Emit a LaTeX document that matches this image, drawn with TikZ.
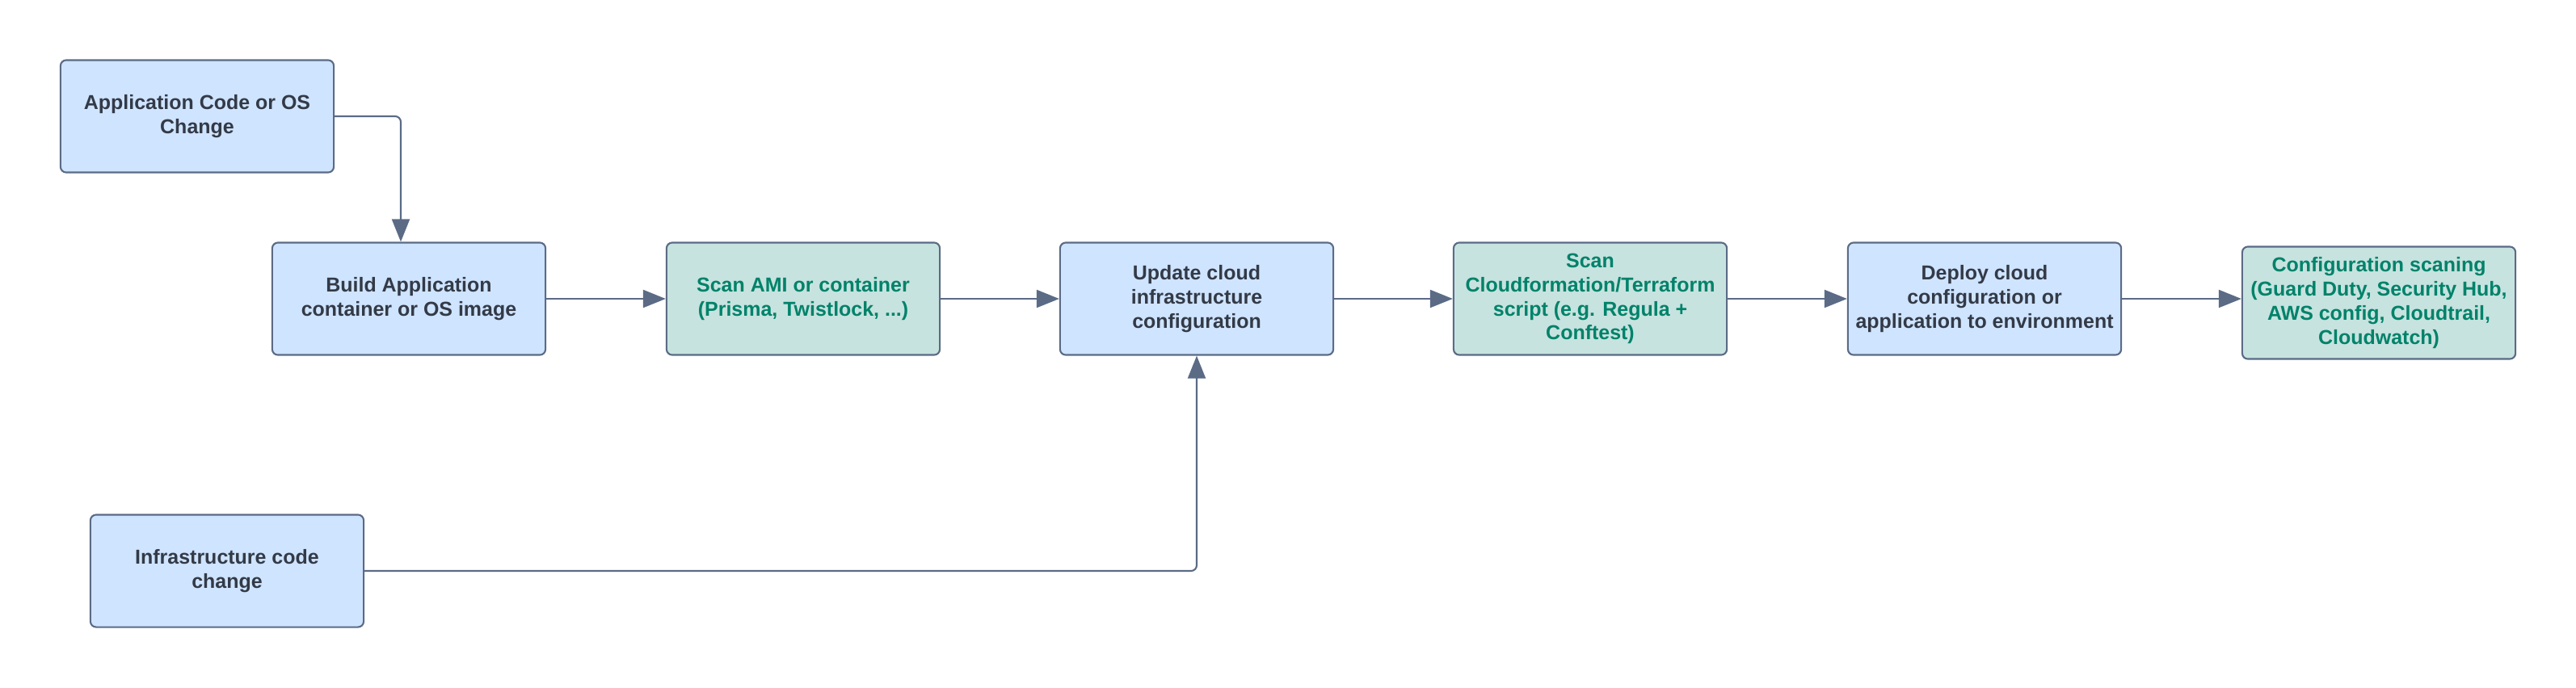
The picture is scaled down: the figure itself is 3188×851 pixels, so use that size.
\documentclass[tikz,border=0pt]{standalone}
\usepackage{fontspec}
\setmainfont{Liberation Sans}
\usepackage{tikz}
\usetikzlibrary{positioning,
  arrows.meta
}
\definecolor{stepblue}{HTML}{CFE4FF}
\definecolor{scangreen}{HTML}{C7E3DF}
\definecolor{edgegray}{HTML}{5B6B86}
\definecolor{textdark}{HTML}{333A47}
\definecolor{textgreen}{HTML}{00826A}

\begin{document}
\begin{tikzpicture}[x=0.01cm, y=-0.01cm,
  box/.style={rectangle, rounded corners=2pt, draw=edgegray, line width=0.6pt,
    minimum width=3.38cm, minimum height=1.39cm, inner sep=0cm, align=center,
    font=\fontsize{7.1}{8.5}\selectfont\bfseries},
  plain/.style={box, fill=stepblue, text=textdark},
  scan/.style={box, fill=scangreen, text=textgreen},
  flow/.style={draw=edgegray, line width=0.6pt, rounded corners=2pt,
    -{Triangle[length=0.28cm, width=0.22cm]}}]
  \useasboundingbox (0,0) rectangle (3188,851);

  \node[plain] (app)    at ( 244, 144) {Application Code or OS\\Change} ;
  \node[plain] (build)  at ( 506, 370) {Build Application\\container or OS image} ;
  \node[scan]  (ami)    at ( 994, 370) {Scan AMI or container\\(Prisma, Twistlock, ...)} ;
  \node[plain] (update) at (1481, 370) {Update cloud\\infrastructure\\configuration} ;
  \node[scan]  (cf)     at (1968, 370) {Scan\\Cloudformation/Terraform\\script (e.g. Regula +\\Conftest)} ;
  \node[plain] (deploy) at (2456, 370) {Deploy cloud\\configuration or\\application to environment} ;
  \node[scan]  (cfg)    at (2944, 375) {Configuration scaning\\(Guard Duty, Security Hub,\\AWS config, Cloudtrail,\\Cloudwatch)} ;
  \node[plain] (infra)  at ( 281, 707) {Infrastructure code\\change} ;

  \draw[flow] (app.east) -| ([xshift=-0.1cm]build.north) ;
  \draw[flow] (build) -- (ami) ;
  \draw[flow] (ami) -- (update) ;
  \draw[flow] (update) -- (cf) ;
  \draw[flow] (cf) -- (deploy) ;
  \draw[flow] (deploy.east) -- (deploy.east -| cfg.west) ;
  \draw[flow] (infra.east) -| (update.south) ;

\end{tikzpicture}
\end{document}
